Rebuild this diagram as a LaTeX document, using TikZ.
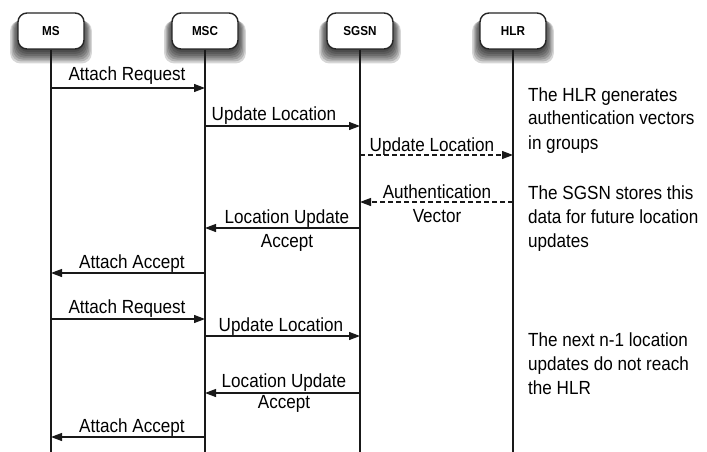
\documentclass[tikz,border=0pt]{standalone}
\usepackage{fontspec}
\setmainfont[FakeStretch=0.9]{Liberation Sans}
\usetikzlibrary{arrows.meta}
\tikzset{
  actor/.style={draw=black!85, line width=1.4pt, fill=white, rounded corners=9pt,
    minimum width=66pt, minimum height=36pt, inner sep=0pt,
    font=\bfseries\fontsize{13}{13}\selectfont},
  life/.style={line width=1.2pt, black!90},
  msg/.style={line width=1.2pt, black!90, -{Triangle[length=11pt,width=8pt]}},
  dmsg/.style={msg, dash pattern=on 5pt off 3pt},
  lbl/.style={inner sep=0pt, anchor=base, font=\fontsize{19}{24}\selectfont},
  note/.style={inner sep=0pt, anchor=base west, align=left, font=\fontsize{19}{24}\selectfont}
}
\begin{document}
\begin{tikzpicture}[x=1pt,y=-1pt]
\useasboundingbox (0,0) rectangle (707,452);
% shadows (fake blur)
\foreach \cx in {51,205,360,513}{
  \foreach \i in {0,...,6}{
    \fill[black, opacity=0.16, rounded corners=10pt]
      (\cx-33-\i*1.3, 17+\i*0.6) rectangle (\cx+33+\i*1.3, 52+\i*1.9);
  }
}
% actors
\node[actor] (ms)   at (51,31)  {MS};
\node[actor] (msc)  at (205,31) {MSC};
\node[actor] (sgsn) at (360,31) {SGSN};
\node[actor] (hlr)  at (513,31) {HLR};
% lifeline ends
\coordinate (msE)   at (51,452);
\coordinate (mscE)  at (205,452);
\coordinate (sgsnE) at (360,452);
\coordinate (hlrE)  at (513,452);
\draw[life] (ms.south) -- (msE);
\draw[life] (msc.south) -- (mscE);
\draw[life] (sgsn.south) -- (sgsnE);
\draw[life] (hlr.south) -- (hlrE);
% message end points
\foreach \n/\x in {a/51,b/205,c/360,d/513}{
  \foreach \k/\y in {1/88,2/126,3/155,4/202,5/228,6/273,7/319,8/336,9/393,10/437}{
    \coordinate (\n\k) at (\x,\y);
  }
}
% messages
\draw[msg]  (a1) -- (b1);
\node[lbl] (l1) at (127,81) {Attach Request};
\draw[msg]  (b2) -- (c2);
\node[lbl] (l2) at (274,120) {Update Location};
\draw[dmsg] (c3) -- (d3);
\node[lbl] (l3) at (432,151) {Update Location};
\draw[dmsg] (d4) -- (c4);
\node[lbl] (l4a) at (437,198) {Authentication};
\node[lbl] (l4b) at (437,222) {Vector};
\draw[msg]  (c5) -- (b5);
\node[lbl] (l5a) at (287,223) {Location Update};
\node[lbl] (l5b) at (287,247) {Accept};
\draw[msg]  (b6) -- (a6);
\node[lbl] (l6) at (132,268) {Attach Accept};
\draw[msg]  (a7) -- (b7);
\node[lbl] (l7) at (127,313) {Attach Request};
\draw[msg]  (b8) -- (c8);
\node[lbl] (l8) at (281,331) {Update Location};
\draw[msg]  (c9) -- (b9);
\node[lbl] (l9a) at (284,387) {Location Update};
\node[lbl] (l9b) at (284,408) {Accept};
\draw[msg]  (b10) -- (a10);
\node[lbl] (l10) at (132,432) {Attach Accept};
% notes (base anchor = last line's baseline)
\node[note] (n1) at (528,149) {The HLR generates\\authentication vectors\\in groups};
\node[note] (n2) at (528,247) {The SGSN stores this\\data for future location\\updates};
\node[note] (n3) at (528,394) {The next n-1 location\\updates do not reach\\the HLR};
\end{tikzpicture}
\end{document}
